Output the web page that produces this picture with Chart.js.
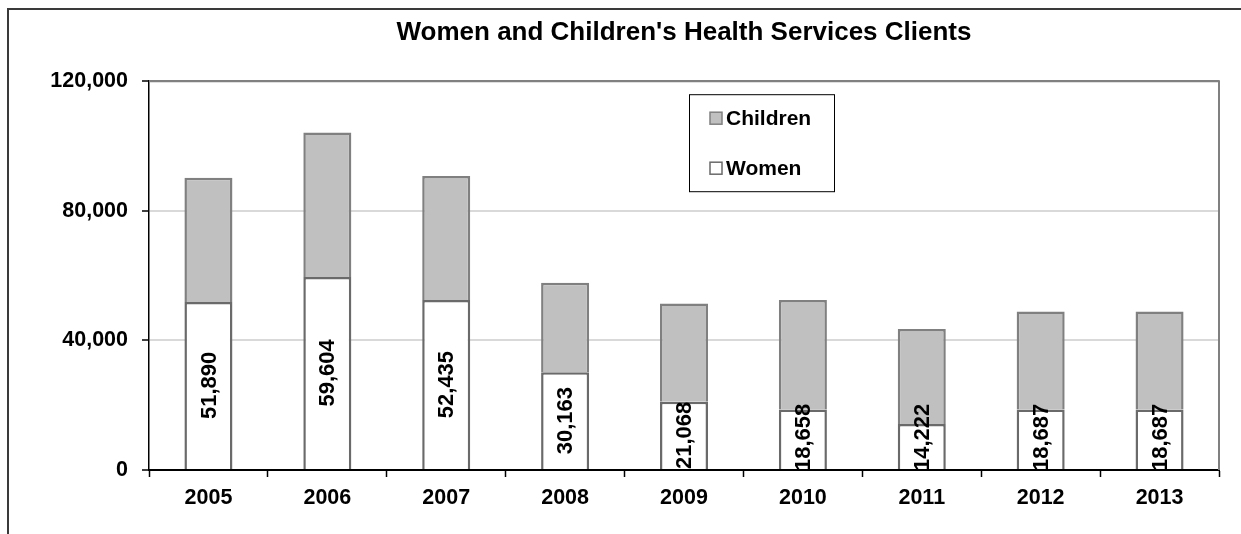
<!DOCTYPE html>
<html>
<head>
<meta charset="utf-8">
<script src="https://cdn.jsdelivr.net/npm/chart.js@4.4.1/dist/chart.umd.min.js"></script>
<style>
  html, body { margin: 0; padding: 0; background: #fff; }
  #wrap { width: 1241px; height: 534px; position: relative; }
</style>
</head>
<body>
<div id="wrap"><canvas id="c" width="1241" height="534"></canvas></div>
<script>
const categories = ['2005', '2006', '2007', '2008', '2009', '2010', '2011', '2012', '2013'];
const women = [51890, 59604, 52435, 30163, 21068, 18658, 14222, 18687, 18687];
const children = [38300, 44600, 38300, 27640, 30330, 33840, 29280, 30210, 30210];
const yTicks = [0, 40000, 80000, 120000];
const titleText = "Women and Children's Health Services Clients";

const FONT = "'Liberation Sans', Arial, sans-serif";
const fmt = v => v.toLocaleString('en-US');

const framePlugin = {
  id: 'frame',
  beforeDraw(chart) {
    const ctx = chart.ctx;
    ctx.save();
    ctx.fillStyle = '#fff';
    ctx.fillRect(0, 0, chart.width, chart.height);
    ctx.strokeStyle = '#3a3a3a';
    ctx.lineWidth = 2;
    ctx.beginPath();
    ctx.moveTo(8, chart.height);
    ctx.lineTo(8, 9);
    ctx.lineTo(chart.width, 9);
    ctx.stroke();
    ctx.restore();
  },
  afterDraw(chart) {
    const a = chart.chartArea, ctx = chart.ctx;
    ctx.save();
    ctx.strokeStyle = '#808080';
    ctx.lineWidth = 2;
    ctx.beginPath();
    ctx.moveTo(a.left, a.top);
    ctx.lineTo(a.right, a.top);
    ctx.lineTo(a.right, a.bottom);
    ctx.stroke();
    // legend
    const lx = a.left + 540, ly = a.top + 13, lw = 145, lh = 97;
    ctx.strokeStyle = '#000';
    ctx.lineWidth = 1;
    ctx.strokeRect(lx + 0.5, ly + 0.5, lw, lh);
    const items = chart.data.datasets.map(d => d).reverse();
    ctx.font = 'bold 21px ' + FONT;
    ctx.textBaseline = 'middle';
    ctx.textAlign = 'left';
    items.forEach((d, i) => {
      const cy = ly + 24 + i * 50;
      ctx.fillStyle = d.backgroundColor;
      ctx.fillRect(lx + 21, cy - 6, 12, 12);
      ctx.strokeStyle = d.borderColor;
      ctx.lineWidth = 1.5;
      ctx.strokeRect(lx + 21, cy - 6, 12, 12);
      ctx.fillStyle = '#000';
      ctx.fillText(d.label, lx + 37, cy + 1);
    });
    ctx.restore();
  }
};

const labelPlugin = {
  id: 'barLabels',
  afterDatasetsDraw(chart) {
    const ctx = chart.ctx;
    const meta = chart.getDatasetMeta(0);
    ctx.save();
    ctx.font = 'bold 22px ' + FONT;
    ctx.fillStyle = '#000';
    ctx.textAlign = 'center';
    ctx.textBaseline = 'middle';
    meta.data.forEach((el, i) => {
      const text = fmt(women[i]);
      const w = ctx.measureText(text).width;
      let cy = (el.y + el.base) / 2;
      if (cy + w / 2 > el.base + 2) cy = el.base + 2 - w / 2;
      ctx.save();
      ctx.translate(el.x, cy);
      ctx.rotate(-Math.PI / 2);
      ctx.fillText(text, 0, 1);
      ctx.restore();
    });
    ctx.restore();
  }
};

new Chart(document.getElementById('c'), {
  type: 'bar',
  data: {
    labels: categories,
    datasets: [
      {
        label: 'Women',
        data: women,
        backgroundColor: '#ffffff',
        borderColor: '#6a6a6a',
        borderWidth: 2.5,
        borderSkipped: 'start',
        barPercentage: 0.404,
        categoryPercentage: 1
      },
      {
        label: 'Children',
        data: children,
        backgroundColor: '#c0c0c0',
        borderColor: '#808080',
        borderWidth: 2.5,
        borderSkipped: 'start',
        barPercentage: 0.404,
        categoryPercentage: 1
      }
    ]
  },
  options: {
    responsive: false,
    animation: false,
    devicePixelRatio: 1,
    layout: { padding: { left: 0, right: 22, top: 0, bottom: 0 } },
    plugins: {
      legend: { display: false },
      tooltip: { enabled: false },
      title: {
        display: true,
        text: titleText,
        fullSize: false,
        color: '#000',
        font: { family: FONT, size: 26, weight: 'bold', lineHeight: 1.2 },
        padding: { top: 17, bottom: 33 }
      }
    },
    scales: {
      x: {
        stacked: true,
        offset: true,
        grid: {
          offset: true,
          drawOnChartArea: false,
          drawTicks: true,
          tickLength: 7,
          tickColor: '#000',
          tickWidth: 1.5
        },
        border: { display: true, color: '#000', width: 2 },
        ticks: {
          color: '#000',
          padding: 8,
          font: { family: FONT, size: 21.5, weight: 'bold' }
        },
        afterFit(scale) { scale.height = 64; }
      },
      y: {
        stacked: true,
        min: 0,
        max: 120000,
        afterBuildTicks(scale) { scale.ticks = yTicks.map(v => ({ value: v })); },
        grid: {
          color: c => (c.tick && c.tick.value === 0) ? 'rgba(0,0,0,0)' : (c.tick && c.tick.value === 120000 ? '#808080' : '#d9d9d9'),
          lineWidth: 2,
          drawTicks: true,
          tickLength: 7,
          tickColor: '#000',
          tickWidth: 1.5
        },
        border: { display: true, color: '#000', width: 1.5 },
        ticks: {
          color: '#000',
          padding: 14,
          font: { family: FONT, size: 21.5, weight: 'bold' },
          callback: v => fmt(v)
        },
        afterFit(scale) { scale.width = 149; }
      }
    }
  },
  plugins: [framePlugin, labelPlugin]
});
</script>
</body>
</html>
